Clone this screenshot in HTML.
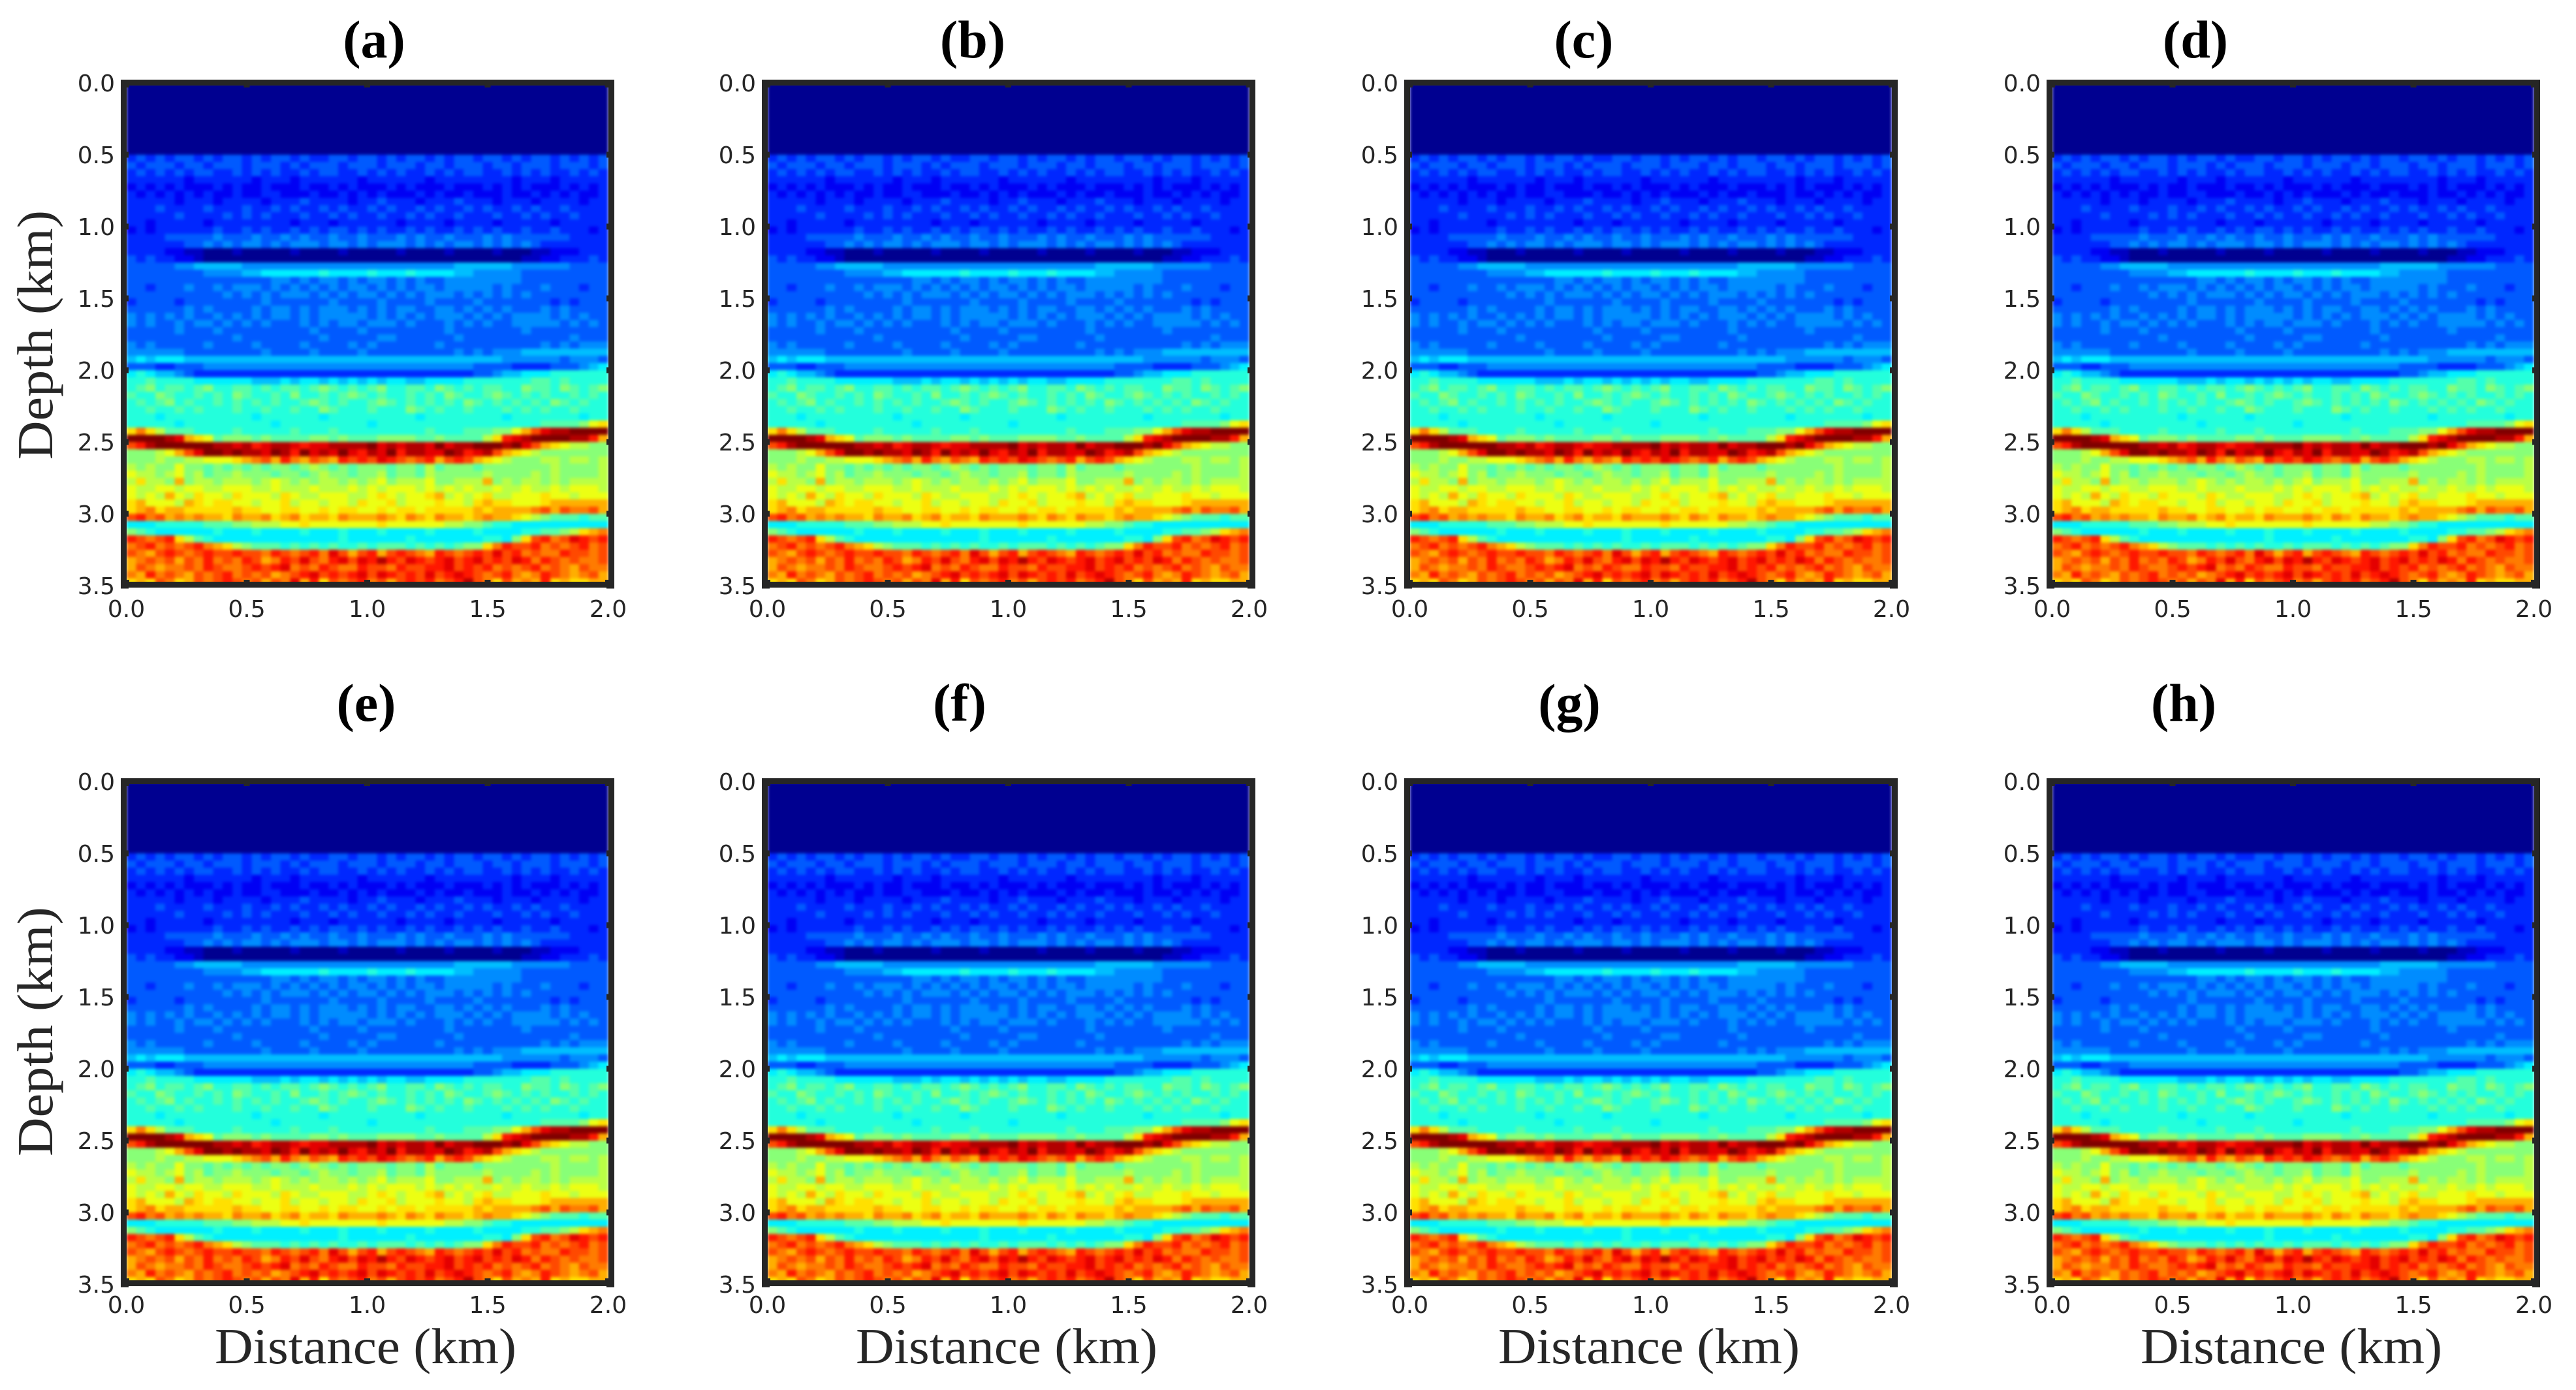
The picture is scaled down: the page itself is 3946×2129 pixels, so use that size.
<!DOCTYPE html>
<html lang="en">
<head>
<meta charset="utf-8">
<title>Depth sections (a)–(h)</title>
<style>
  html, body { margin: 0; padding: 0; background: #ffffff; }
  #figure { display: block; width: 3946px; height: 2129px; }
  .tick-label { font-family: "DejaVu Sans", "Liberation Sans", sans-serif; font-size: 36px; fill: #262626; }
  .axis-title { font-family: "Liberation Serif", serif; font-size: 77px; fill: #262626; }
  .panel-title { font-family: "Liberation Serif", serif; font-size: 82px; font-weight: bold; fill: #000000; }
</style>
</head>
<body>
<svg id="figure" xmlns="http://www.w3.org/2000/svg" width="3946" height="2129" viewBox="0 0 3946 2129">
  <defs>
    <filter id="soften" x="0" y="0" width="1" height="1" color-interpolation-filters="sRGB">
      <feGaussianBlur stdDeviation="2.5" edgeMode="duplicate"/>
    </filter>
  </defs>
  <rect x="0" y="0" width="3946" height="2129" fill="#ffffff"/>
</svg>
<script>
// ---------- chart data ----------
const panelLabels = ['(a)', '(b)', '(c)', '(d)', '(e)', '(f)', '(g)', '(h)'];
const distanceTickLabels = ['0.0', '0.5', '1.0', '1.5', '2.0'];
const depthTickLabels = ['0.0', '0.5', '1.0', '1.5', '2.0', '2.5', '3.0', '3.5'];
const distanceAxisTitle = 'Distance (km)';
const depthAxisTitle = 'Depth (km)';
const distanceMax = 2.0;
const depthMax = 3.5;
const levelCodes = '0123456789ABCDEFGHIJK';
// Image amplitude per row (depth step 0.05 km), one code per cell across distance.
const imageRows = [
"00000000000000000000000000000000000000000000000000",
"00000000000000000000000000000000000000000000000000",
"00000000000000000000000000000000000000000000000000",
"00000000000000000000000000000000000000000000000000",
"00000000000000000000000000000000000000000000000000",
"00000000000000000000000000000000000000000000000000",
"00000000000000000000000000000000000000000000000000",
"00000000000000000000000000000000000000000000000000",
"00000000000000000000000000000000000000000000000000",
"00000000000000000000000000000000000000000000000000",
"34343443434434344343344344343443434434434344343434",
"43444344344434443434443444344434434443443444344434",
"34343434433434343343443343434334343443343434334343",
"33333323333332333233333323333332333333332333233333",
"23232322232322322232232322232322232223232322232323",
"32323232322322332223223232322232322322232232323223",
"33333233323333233343333233433323334333233323333233",
"33343333433343343433434334343343433434334343343333",
"33333433334343433343343433433434334333433434334333",
"33233333233333333233323333332333323333233333233333",
"23233333343343433434344343433434334343433433433323",
"33334444454445445454454454445454454445454444443333",
"33333344545455454555455454555454545545454543333333",
"33332211000100000100001000001000010000100011222333",
"43433221000000000000000000000000000000000112233343",
"44444556666655555555555555555555556666665555554444",
"44444444555566777777877778777877776655555444444444",
"44444444444444455454554545545454455555555444444444",
"44344454454555454545454554545455455555454445444344",
"44444444445454545554545455454545554545454544444444",
"34444344444444544444454444544445444454444444343444",
"44444454544445455454555454545544554545454445454444",
"54545454454545455454555554545454555454545555454544",
"54544545545454544454545545554544454545445555545454",
"44444544454444444445444454444444454444444544444444",
"44444444444544444444544444554444445444444444445444",
"54544444544445444454444545444444544444444445454555",
"55555544444444544445444454444444445454555666666666",
"67677766666666666666666666666666666666655555545554",
"44433444555555555555555555555555555544443333444567",
"78766543333333333333333333333333333344566777888888",
"88988887777776667677676767677667777888888899898888",
"89A89989A88998989989A98989A88998A98989988A998A989A",
"988A9889898A98898A88989A989889898A9889A98989889898",
"8989A89889898989889A989889A98989898A98989898A98988",
"88988989888988988988A98889888A98988988898989889888",
"88878888888887888888788888888878888888878888888788",
"88888788888888878888888887888888888888888889999ACD",
"DFDB9998888988888988898888888889888999AACEGIJJKKKK",
"KKKKJIEDC9AAA9A9999AA9A999AAAA99A9999BDHIJKKKKJJHE",
"GHJKKKKKKJJIJHIJJIHIIJJJJKIJIJJIKIJJKKKJKIGEDCBBAA",
"AAABCEGIKKJKJJIKJHKIJIKIHJIKHJJIIKJHIJGEDCBAAAAAAA",
"AAABAABBCCCDEFGEHFEGFEHGHGIHGFGHEGHGEDCBAAABBABBAB",
"BABAACAA9A9A9A9AA9ABA9A9AAA9AA9B9AAA9AAAAAAABAAAAB",
"CBBABCAB9AABAAA9AA9ABAA9AAB9AA9BAAAAABAAAABABAAAAB",
"BDBBAEABBABBBABCBABABBABABCABBBCAABBBEABABBABABBBB",
"CBBCCBCCBBCCCBBCBBBCBBBCBCBCCCBCBCBCBBCBBCBBCBCCCB",
"CBCBECBDCCBDCCCBDCBBCCCBBCDCBCCDEBCBCDBBCCCDCCBCCC",
"DECCCBEDCDDCCBCCDBCCBCCBDCCDBCCCDCCBDEDDCCCDEEEEEE",
"DEFDEEDDDDDEDDCCDDCCDCDDCCDCDDCDDDDDEDEEEEFGEGFFGE",
"GHFGEFEFEEDFEEFDEFDEEDFEEEFEDFEDFEEDEFEEDCBA999899",
"77788888999AABBBCCDCCCCCCCDCCCCCCBBAA9887777777777",
"A98777777877787777877787778777787777877778899ABDEF",
"HGFGHDB987777777777777877777787777777887ADGHFGIHGH",
"FGHFGFGHFEDBA9998989898898999898989AADFHGGHFGFGHFG",
"GFEGHGFGHGGHGGFHGFGHFIGEGHEGHGFEHGFGHGIGHFGFFHGGFG",
"EFGFGEGFHFGFHGEFHGIGFHIGIHJHGIHGHIGHIGHGIHFHGFGFFG",
"EGFEFFGFHGFFGHGHIFGFHGFFHGGFHGGHHIGHGHFGFGHFGFEGFF",
"FEHFGFEGFGHFGFGEFGHIGHGHIGIHGHGIGHIHGFGHFEFHGFEFGE",
"DEDGFDEGFGHGFGEGFIEHDGFGHFGEGHGHFGHJGFDGEFEHDEDDEE"
];

// ---------- layout ----------
const panelLeftEdges = [185, 1167, 2151, 3135];
const panelTopEdges = [122, 1192];
const titleCentres = [573, 1490, 2426, 3363, 561, 1470, 2404, 3345];
const titleBaselines = [88, 1104];
const frameOuterWidth = 756;
const frameOuterHeight = 778;
const frameThickness = 9;
const svgNS = 'http://www.w3.org/2000/svg';
const figure = document.getElementById('figure');

function jetColour(v) {
  const clamp = t => Math.max(0, Math.min(1, t));
  const r = clamp(1.5 - Math.abs(4 * v - 3));
  const g = clamp(1.5 - Math.abs(4 * v - 2));
  const b = clamp(1.5 - Math.abs(4 * v - 1));
  return 'rgb(' + Math.round(r * 255) + ',' + Math.round(g * 255) + ',' + Math.round(b * 255) + ')';
}
function codeToValue(code) {
  return 0.016 + 0.984 * levelCodes.indexOf(code) / (levelCodes.length - 1);
}
function make(tag, attrs, parent) {
  const el = document.createElementNS(svgNS, tag);
  for (const key in attrs) el.setAttribute(key, attrs[key]);
  parent.appendChild(el);
  return el;
}

panelLabels.forEach(function (label, index) {
  const col = index % 4;
  const row = Math.floor(index / 4);
  const left = panelLeftEdges[col];
  const top = panelTopEdges[row];

  // axis functions
  const xScale = d => left + 8.5 + (d / distanceMax) * 738;
  const yScale = d => top + 5 + (d / depthMax) * 770;

  const panel = make('g', {}, figure);
  
  

  const title = make('text', { x: titleCentres[index], y: titleBaselines[row], 'text-anchor': 'middle', class: 'panel-title' }, panel);
  
  
  title.textContent = label;

  const heatmap = make('g', { 'shape-rendering': 'crispEdges', filter: 'url(#soften)' }, panel);
  
  
  const dDepth = depthMax / imageRows.length;
  imageRows.forEach(function (rowCodes, r) {
    const dDist = distanceMax / rowCodes.length;
    for (let c = 0; c < rowCodes.length; c++) {
      const x0 = xScale(c * dDist);
      const x1 = xScale((c + 1) * dDist);
      const y0 = yScale(r * dDepth);
      const y1 = yScale((r + 1) * dDepth);
      const cell = make('rect', {
        x: x0.toFixed(2), y: y0.toFixed(2),
        width: (x1 - x0 + 0.6).toFixed(2), height: (y1 - y0 + 0.6).toFixed(2),
        fill: jetColour(codeToValue(rowCodes[c]))
      }, heatmap);
      
      
    }
  });

  const frame = make('rect', {
    x: left + frameThickness / 2, y: top + frameThickness / 2,
    width: frameOuterWidth - frameThickness, height: frameOuterHeight - frameThickness,
    fill: 'none', stroke: '#262626', 'stroke-width': frameThickness
  }, panel);
  
  

  const nubLength = frameThickness + 3;
  distanceTickLabels.forEach(function (text) {
    const x = xScale(parseFloat(text));
    [top, top + frameOuterHeight - nubLength].forEach(function (y) {
      const nub = make('rect', { x: x - 4.5, y: y, width: 9, height: nubLength, fill: '#262626' }, panel);
      
      
    });
    const lbl = make('text', { x: x, y: top + frameOuterHeight + (row === 0 ? 45 : 41), 'text-anchor': 'middle', class: 'tick-label' }, panel);
    
    
    lbl.textContent = text;
  });
  depthTickLabels.forEach(function (text) {
    const y = yScale(parseFloat(text));
    [left, left + frameOuterWidth - nubLength].forEach(function (x) {
      const nub = make('rect', { x: x, y: y - 4.5, width: nubLength, height: 9, fill: '#262626' }, panel);
      
      
    });
    const lbl = make('text', { x: left - 9, y: y + 13, 'text-anchor': 'end', class: 'tick-label' }, panel);
    
    
    lbl.textContent = text;
  });

  if (row === 1) {
    const xTitle = make('text', {
      x: left + 144, y: 2088, class: 'axis-title',
      textLength: 462, lengthAdjust: 'spacingAndGlyphs'
    }, panel);
    
    
    xTitle.textContent = distanceAxisTitle;
  }
  if (col === 0) {
    const midY = row === 0 ? 513 : 1580;
    const yTitle = make('text', {
      x: 0, y: 0, class: 'axis-title',
      transform: 'translate(80 ' + (midY + 191) + ') rotate(-90)',
      textLength: 382, lengthAdjust: 'spacingAndGlyphs'
    }, panel);
    
    
    yTitle.textContent = depthAxisTitle;
  }
});
</script>
</body>
</html>
